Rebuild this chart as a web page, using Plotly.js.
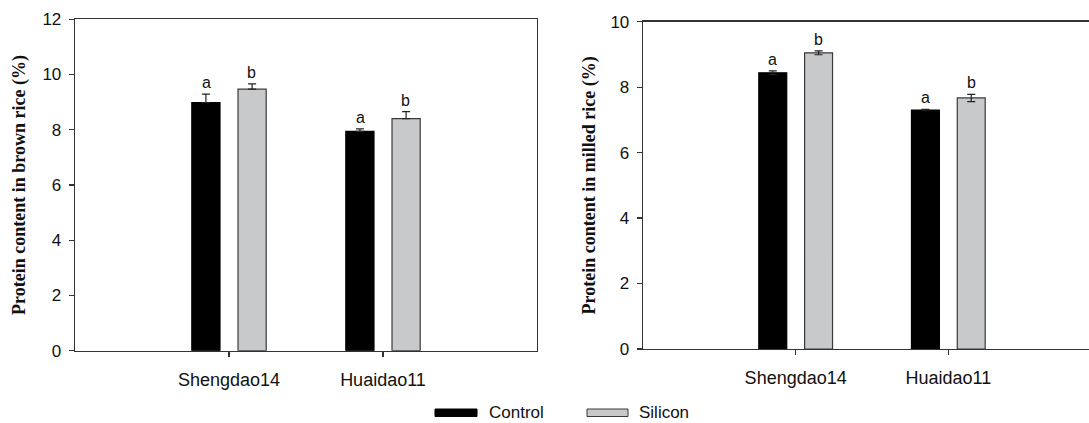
<!DOCTYPE html>
<html>
<head>
<meta charset="utf-8">
<script src="https://cdn.plot.ly/plotly-3.0.1.min.js"></script>
<style>
html,body{margin:0;padding:0;overflow:hidden;background:#fff;}
#chart{width:1105px;height:423px;}
</style>
</head>
<body>
<div id="chart"></div>
<script>
// ---- data ----
const categories = ["Shengdao14", "Huaidao11"];
const seriesNames = ["Control", "Silicon"];
const brownControl = [8.98, 7.94];
const brownControlErr = [0.31, 0.09];
const brownSilicon = [9.47, 8.40];
const brownSiliconErr = [0.19, 0.26];
const milledControl = [8.44, 7.30];
const milledControlErr = [0.06, 0.02];
const milledSilicon = [9.05, 7.67];
const milledSiliconErr = [0.06, 0.11];
const brownLetters = {Control: ["a", "a"], Silicon: ["b", "b"]};
const milledLetters = {Control: ["a", "a"], Silicon: ["b", "b"]};
const brownTicks = [0, 2, 4, 6, 8, 10, 12];
const milledTicks = [0, 2, 4, 6, 8, 10];

// ---- style ----
const W = 1105, H = 423;
const sans = "Liberation Sans, Arial, sans-serif";
const serif = "Liberation Serif, Times New Roman, serif";
const colors = {Control: "#000000", Silicon: "#c8c9cb"};
const lines = {Control: "#000000", Silicon: "#3a3a3a"};
const fx = px => px / W;
const fy = py => (H - py) / H;

function barTrace(name, y, err, xa, ya, symmetric) {
  return {
    type: "bar", name: name, x: categories, y: y,
    xaxis: xa, yaxis: ya,
    marker: {color: colors[name], line: {color: lines[name], width: 1.2}},
    error_y: symmetric
      ? {type: "data", array: err, visible: true, color: "#222", thickness: 1.2, width: 4}
      : {type: "data", array: err, arrayminus: err.map(() => 0), symmetric: false, visible: true, color: "#222", thickness: 1.2, width: 4},
    showlegend: false, hoverinfo: "skip"
  };
}

const data = [
  barTrace("Control", brownControl, brownControlErr, "x", "y", false),
  barTrace("Silicon", brownSilicon, brownSiliconErr, "x", "y", false),
  barTrace("Control", milledControl, milledControlErr, "x2", "y2", true),
  barTrace("Silicon", milledSilicon, milledSiliconErr, "x2", "y2", true)
];

const off = 0.149;
const annotations = [];
function letters(vals, errs, lets, sign, xr, yr) {
  vals.forEach((v, i) => {
    annotations.push({
      xref: xr, yref: yr, x: i + sign * off, y: v + errs[i],
      text: lets[i], showarrow: false, yanchor: "bottom", xanchor: "center",
      yshift: 1, font: {family: sans, size: 16, color: "#111"}
    });
  });
}
letters(brownControl, brownControlErr, brownLetters.Control, -1, "x", "y");
letters(brownSilicon, brownSiliconErr, brownLetters.Silicon, 1, "x", "y");
letters(milledControl, milledControlErr, milledLetters.Control, -1, "x2", "y2");
letters(milledSilicon, milledSiliconErr, milledLetters.Silicon, 1, "x2", "y2");

// legend (drawn manually)
const legendItems = [
  {name: "Control", x0: 435, x1: 477, tx: 487},
  {name: "Silicon", x0: 587, x1: 628, tx: 637}
];
const shapes = [];
legendItems.forEach(it => {
  shapes.push({type: "rect", xref: "paper", yref: "paper",
    x0: fx(it.x0), x1: fx(it.x1), y0: fy(416.5), y1: fy(409),
    fillcolor: colors[it.name], line: {color: lines[it.name], width: 1}});
  annotations.push({xref: "paper", yref: "paper", x: fx(it.tx), y: fy(412.5),
    xanchor: "left", yanchor: "middle", showarrow: false, text: it.name,
    font: {family: sans, size: 17, color: "#111"}});
});

const axisLine = {showline: true, linecolor: "#333", linewidth: 1.3, mirror: true,
  showgrid: false, zeroline: false, ticks: "outside", ticklen: 5, tickwidth: 1.2,
  tickcolor: "#333", automargin: false, fixedrange: true,
  tickfont: {family: sans, size: 17, color: "#111"}};

const xFont = {family: sans, size: 18, color: "#111"};
const titleFont = {family: serif, size: 18, color: "#111", weight: "bold"};

const layout = {
  width: W, height: H,
  margin: {l: 0, r: 0, t: 0, b: 0},
  paper_bgcolor: "#fff", plot_bgcolor: "#fff",
  barmode: "group", bargap: 0.4, bargroupgap: 0.39,
  showlegend: false,
  xaxis: Object.assign({}, axisLine, {domain: [fx(75), fx(537)], anchor: "y",
    type: "category", range: [-1, 2], ticklabelstandoff: 7, tickfont: xFont}),
  yaxis: Object.assign({}, axisLine, {domain: [fy(350.7), fy(19.3)], anchor: "x",
    range: [0, 12], tickvals: brownTicks, ticklabelstandoff: 4,
    title: {text: "Protein content in brown rice (%)", standoff: 12, font: titleFont}}),
  xaxis2: Object.assign({}, axisLine, {domain: [fx(643), fx(1101)], anchor: "y2",
    type: "category", range: [-1, 2], ticklabelstandoff: 7, tickfont: xFont}),
  yaxis2: Object.assign({}, axisLine, {domain: [fy(349), fy(21.7)], anchor: "x2",
    range: [0, 10], tickvals: milledTicks, ticklabelstandoff: 4,
    title: {text: "Protein content in milled rice (%)", standoff: 10, font: titleFont}}),
  annotations: annotations,
  shapes: shapes
};

Plotly.newPlot("chart", data, layout, {displayModeBar: false, staticPlot: true});
</script>
</body>
</html>
